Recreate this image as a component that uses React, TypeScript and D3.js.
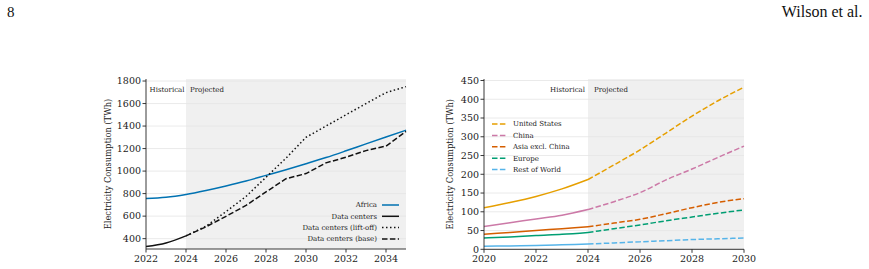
import React from "react";
import * as d3 from "d3";

// ---- Left panel: Africa vs data centers (TWh) ----
const leftYears = [2022, 2023, 2024, 2025, 2026, 2027, 2028, 2029, 2030, 2031, 2032, 2033, 2034, 2035];
const africa = [757, 768, 793, 828, 868, 912, 962, 1012, 1065, 1120, 1180, 1242, 1303, 1363];
const dcHistYears = [2022, 2023, 2024];
const dcHist = [330, 362, 425];
const dcProjYears = [2024, 2025, 2026, 2027, 2028, 2029, 2030, 2031, 2032, 2033, 2034, 2035];
const dcLiftoff = [425, 510, 640, 775, 945, 1115, 1300, 1400, 1500, 1600, 1697, 1750];
const dcBase = [425, 505, 598, 695, 815, 932, 978, 1073, 1123, 1182, 1222, 1352];
const leftYTicks = [400, 600, 800, 1000, 1200, 1400, 1600, 1800];
const leftXTicks = [2022, 2024, 2026, 2028, 2030, 2032, 2034];

// ---- Right panel: data-center demand by region (TWh) ----
const rightYears = [2020, 2021, 2022, 2023, 2024, 2025, 2026, 2027, 2028, 2029, 2030];
const regions = ["United States", "China", "Asia excl. China", "Europe", "Rest of World"];
const regionColors = ["#E69F00", "#CC79A7", "#D55E00", "#009E73", "#56B4E9"];
const unitedStates = [111, 125, 141, 161, 186, 225, 265, 310, 355, 396, 432];
const china = [61, 71, 81, 91, 106, 127, 151, 185, 214, 245, 275];
const asiaExChina = [40, 45, 50, 55, 60, 70, 80, 95, 111, 125, 135];
const europe = [30, 33, 37, 40, 45, 55, 65, 76, 86, 96, 105];
const restOfWorld = [8, 9, 10, 12, 14, 17, 20, 23, 26, 28, 30];
const rightYTicks = [0, 50, 100, 150, 200, 250, 300, 350, 400, 450];
const rightXTicks = [2020, 2022, 2024, 2026, 2028, 2030];

const SERIF = "'DejaVu Serif', serif";
const HEADER_FONT = "'Liberation Serif', 'Times New Roman', serif";
const SHADE = "#f0f0f0";
const GRID = "#e4e4e4";
const DASH = "5.5,2.4";
const DOT = "1.5,2.5";

type Pt = [number, number];

function zip(xs: number[], ys: number[]): Pt[] {
  return xs.map((x, i) => [x, ys[i]]);
}

function Axes(props: {
  x: d3.ScaleLinear<number, number>;
  y: d3.ScaleLinear<number, number>;
  xTicks: number[];
  yTicks: number[];
}) {
  const { x, y, xTicks, yTicks } = props;
  const [x0] = x.range();
  const [y0] = y.range();
  return (
    <g fontFamily={SERIF} fill="#222">
      <line x1={x0} x2={x0} y1={y.range()[1]} y2={y0} stroke="#222" strokeWidth={0.9} />
      <line x1={x0} x2={x.range()[1]} y1={y0} y2={y0} stroke="#222" strokeWidth={0.9} />
      {yTicks.map((t) => (
        <g key={"y" + t}>
          <line x1={x0 - 3.5} x2={x0} y1={y(t)} y2={y(t)} stroke="#222" strokeWidth={0.9} />
          <text x={x0 - 5} y={y(t)} dy="0.35em" textAnchor="end" fontSize={9.5}>
            {t}
          </text>
        </g>
      ))}
      {xTicks.map((t) => (
        <g key={"x" + t}>
          <line x1={x(t)} x2={x(t)} y1={y0} y2={y0 + 3.5} stroke="#222" strokeWidth={0.9} />
          <text x={x(t)} y={y0 + 13} textAnchor="middle" fontSize={9.5}>
            {t}
          </text>
        </g>
      ))}
    </g>
  );
}

export default function App() {
  // left panel scales
  const lx = d3.scaleLinear().domain([2022, 2035]).range([146, 406]);
  const ly = d3.scaleLinear().domain([308, 1818]).range([249, 79]);
  const lline = d3
    .line<Pt>()
    .x((d) => lx(d[0]))
    .y((d) => ly(d[1]))
    .curve(d3.curveMonotoneX);
  const lstraight = d3
    .line<Pt>()
    .x((d) => lx(d[0]))
    .y((d) => ly(d[1]));

  // right panel scales
  const rx = d3.scaleLinear().domain([2020, 2030]).range([484, 744]);
  const ry = d3.scaleLinear().domain([0, 454]).range([249.3, 79]);
  const rline = d3
    .line<Pt>()
    .x((d) => rx(d[0]))
    .y((d) => ry(d[1]))
    .curve(d3.curveMonotoneX);
  const regionSeries = [unitedStates, china, asiaExChina, europe, restOfWorld];
  const splitIdx = rightYears.indexOf(2024);

  const leftLegend = [
    { label: "Africa", color: "#0072B2", dash: undefined as string | undefined },
    { label: "Data centers", color: "#111", dash: undefined },
    { label: "Data centers (lift-off)", color: "#111", dash: DOT },
    { label: "Data centers (base)", color: "#111", dash: DASH },
  ];

  return (
    <svg width={869} height={269} style={{ display: "block", position: "absolute", left: 0, top: 0 }}>
      <rect width={869} height={269} fill="#fff" />
      {/* running header */}
      <text x={7} y={16.5} fontFamily={HEADER_FONT} fontSize={15} fill="#111">
        8
      </text>
      <text x={862.5} y={16.5} textAnchor="end" fontFamily={HEADER_FONT} fontSize={16} fill="#111">
        Wilson et al.
      </text>

      {/* ---------- left panel ---------- */}
      <rect x={lx(2024)} y={ly.range()[1]} width={lx(2035) - lx(2024)} height={ly.range()[0] - ly.range()[1]} fill={SHADE} />
      {leftYTicks.map((t) => (
        <line key={t} x1={lx(2022)} x2={lx(2035)} y1={ly(t)} y2={ly(t)} stroke={GRID} strokeWidth={0.8} />
      ))}
      <text x={lx(2024) - 1.5} y={92} textAnchor="end" fontFamily={SERIF} fontSize={7} fill="#222">
        Historical
      </text>
      <text x={lx(2024) + 4} y={92} fontFamily={SERIF} fontSize={7} fill="#222">
        Projected
      </text>
      <path d={lline(zip(leftYears, africa)) ?? ""} fill="none" stroke="#0072B2" strokeWidth={1.5} />
      <path d={lstraight(zip(dcProjYears, dcLiftoff)) ?? ""} fill="none" stroke="#111" strokeWidth={1.5} strokeDasharray={DOT} />
      <path d={lstraight(zip(dcProjYears, dcBase)) ?? ""} fill="none" stroke="#111" strokeWidth={1.5} strokeDasharray={DASH} />
      <path d={lline(zip(dcHistYears, dcHist)) ?? ""} fill="none" stroke="#111" strokeWidth={1.5} />
      <Axes x={lx} y={ly} xTicks={leftXTicks} yTicks={leftYTicks} />
      <text
        transform={`translate(111,${(ly.range()[0] + ly.range()[1]) / 2}) rotate(-90)`}
        textAnchor="middle"
        fontFamily={SERIF}
        fontSize={8.3}
        fill="#222"
      >
        Electricity Consumption (TWh)
      </text>
      {leftLegend.map((e, i) => (
        <g key={e.label} fontFamily={SERIF} fontSize={7} fill="#222">
          <text x={377} y={205 + i * 11.3} dy="0.35em" textAnchor="end">
            {e.label}
          </text>
          <line x1={382} x2={399} y1={205 + i * 11.3} y2={205 + i * 11.3} stroke={e.color} strokeWidth={1.5} strokeDasharray={e.dash} />
        </g>
      ))}

      {/* ---------- right panel ---------- */}
      <rect x={rx(2024)} y={ry.range()[1]} width={rx(2030) - rx(2024)} height={ry.range()[0] - ry.range()[1]} fill={SHADE} />
      {rightYTicks.map((t) => (
        <line key={t} x1={rx(2020)} x2={rx(2030)} y1={ry(t)} y2={ry(t)} stroke={GRID} strokeWidth={0.8} />
      ))}
      <text x={rx(2024) - 3} y={92} textAnchor="end" fontFamily={SERIF} fontSize={7} fill="#222">
        Historical
      </text>
      <text x={rx(2024) + 6} y={92} fontFamily={SERIF} fontSize={7} fill="#222">
        Projected
      </text>
      {regionSeries.map((vals, i) => {
        const pts = zip(rightYears, vals);
        return (
          <g key={regions[i]}>
            <path d={rline(pts.slice(0, splitIdx + 1)) ?? ""} fill="none" stroke={regionColors[i]} strokeWidth={1.5} />
            <path d={rline(pts.slice(splitIdx)) ?? ""} fill="none" stroke={regionColors[i]} strokeWidth={1.5} strokeDasharray={DASH} />
          </g>
        );
      })}
      <Axes x={rx} y={ry} xTicks={rightXTicks} yTicks={rightYTicks} />
      <text
        transform={`translate(453,${(ry.range()[0] + ry.range()[1]) / 2}) rotate(-90)`}
        textAnchor="middle"
        fontFamily={SERIF}
        fontSize={8.3}
        fill="#222"
      >
        Electricity Consumption (TWh)
      </text>
      {regions.map((r, i) => (
        <g key={r} fontFamily={SERIF} fontSize={7} fill="#222">
          <line x1={492} x2={507} y1={124 + i * 11.4} y2={124 + i * 11.4} stroke={regionColors[i]} strokeWidth={1.5} strokeDasharray={DASH} />
          <text x={513} y={124 + i * 11.4} dy="0.35em">
            {r}
          </text>
        </g>
      ))}
    </svg>
  );
}
